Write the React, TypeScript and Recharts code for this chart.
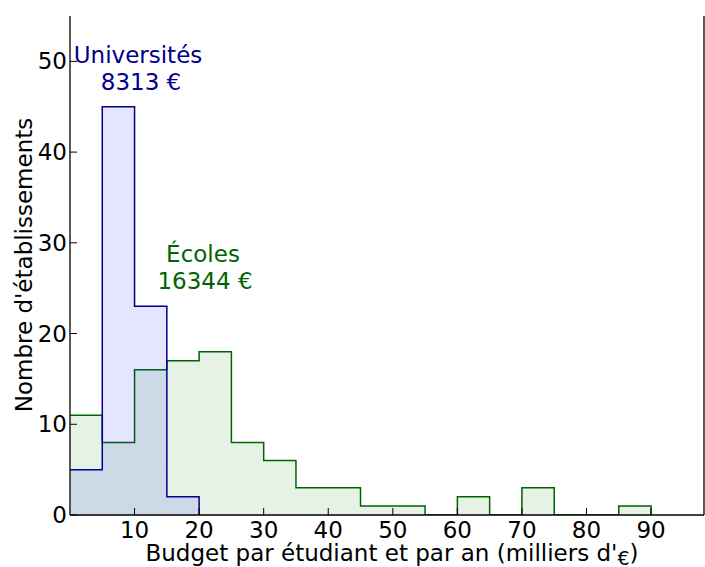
import React from 'react';
import { ComposedChart, Area, XAxis, YAxis } from 'recharts';

// bords des classes (milliers d'€) et effectifs par classe
const bordsClasses = [0, 5, 10, 15, 20, 25, 30, 35, 40, 45, 50, 55, 60, 65, 70, 75, 80, 85, 90];
const universites = [5, 45, 23, 2];
const ecoles = [11, 8, 16, 17, 18, 8, 6, 3, 3, 1, 1, 0, 2, 0, 3, 0, 0, 1];
const ticksX = [10, 20, 30, 40, 50, 60, 70, 80, 90];
const ticksY = [0, 10, 20, 30, 40, 50];

const donnees = bordsClasses.map((bord, i) => ({
  x: bord,
  uni: i < universites.length ? universites[i] : i === universites.length ? 0 : null,
  eco: i < ecoles.length ? ecoles[i] : 0,
}));

const police = 'DejaVu Sans, sans-serif';
const LONG = 7;
const TAILLE = 23;

const TickBas = ({ x, y, payload }: any) => (
  <g>
    <line x1={x} x2={x} y1={y} y2={y - LONG} stroke="#000" strokeWidth={1} />
    <text x={x} y={y + 23} textAnchor="middle" fontSize={TAILLE} fontFamily={police} fill="#000">
      {payload.value}
    </text>
  </g>
);

const TickGauche = ({ x, y, payload }: any) => (
  <g>
    <line x1={x} x2={x + LONG} y1={y} y2={y} stroke="#000" strokeWidth={1} />
    <text x={x - 3} y={y + 8} textAnchor="end" fontSize={TAILLE} fontFamily={police} fill="#000">
      {payload.value}
    </text>
  </g>
);

const TickHaut = ({ x, y }: any) => (
  <line x1={x} x2={x} y1={y} y2={y + LONG} stroke="#000" strokeWidth={1} />
);

const TickDroite = ({ x, y }: any) => (
  <line x1={x} x2={x - LONG} y1={y} y2={y} stroke="#000" strokeWidth={1} />
);

export default function App() {
  return (
    <div style={{ position: 'absolute', left: 0, top: 0, width: 705, height: 567, background: '#fff' }}>
      <ComposedChart width={705} height={567} data={donnees} margin={{ top: 16, right: 1, left: 0, bottom: 0 }}>
        <Area
          type="stepAfter"
          dataKey="eco"
          stroke="#006400"
          strokeWidth={1.5}
          fill="#008000"
          fillOpacity={0.1}
          isAnimationActive={false}
          dot={false}
          activeDot={false}
        />
        <Area
          type="stepAfter"
          dataKey="uni"
          stroke="#00008B"
          strokeWidth={1.5}
          fill="#0000FF"
          fillOpacity={0.1}
          isAnimationActive={false}
          dot={false}
          activeDot={false}
        />
        <XAxis
          dataKey="x"
          type="number"
          domain={[0, 98.2]}
          allowDataOverflow
          ticks={ticksX}
          height={52}
          tickSize={0}
          tickMargin={0}
          tickLine={false}
          tick={<TickBas />}
          axisLine={{ stroke: '#000', strokeWidth: 1.3 }}
        />
        <XAxis
          xAxisId="haut"
          dataKey="x"
          orientation="top"
          type="number"
          domain={[0, 98.2]}
          allowDataOverflow
          ticks={ticksX}
          height={0}
          tickSize={0}
          tickMargin={0}
          tickLine={false}
          tick={<TickHaut />}
          axisLine={{ stroke: '#000', strokeWidth: 1.3 }}
        />
        <YAxis
          type="number"
          domain={[0, 55]}
          allowDataOverflow
          ticks={ticksY}
          width={70}
          tickSize={0}
          tickMargin={0}
          tickLine={false}
          tick={<TickGauche />}
          axisLine={{ stroke: '#000', strokeWidth: 1.3 }}
        />
        <YAxis
          yAxisId="droite"
          orientation="right"
          type="number"
          domain={[0, 55]}
          allowDataOverflow
          ticks={ticksY}
          width={0}
          tickSize={0}
          tickMargin={0}
          tickLine={false}
          tick={<TickDroite />}
          axisLine={{ stroke: '#000', strokeWidth: 1.3 }}
        />
      </ComposedChart>
      <svg
        width={705}
        height={567}
        style={{ position: 'absolute', left: 0, top: 0, pointerEvents: 'none' }}
        fontFamily={police}
      >
        <text x={138} y={63} textAnchor="middle" fontSize={TAILLE} fill="#00008B">Universités</text>
        <text x={141} y={90} textAnchor="middle" fontSize={TAILLE} fill="#00008B">8313 €</text>
        <text x={203} y={262} textAnchor="middle" fontSize={TAILLE} fill="#006400">Écoles</text>
        <text x={205} y={289} textAnchor="middle" fontSize={TAILLE} fill="#006400">16344 €</text>
        <text x={392} y={561} textAnchor="middle" fontSize={TAILLE} fill="#000">
          Budget par étudiant et par an (milliers d'
          <tspan fontSize={19} dy={4}>€</tspan>
          <tspan dy={-4}>)</tspan>
        </text>
        <text
          x={32}
          y={265}
          textAnchor="middle"
          fontSize={TAILLE}
          fill="#000"
          transform="rotate(-90 32 265)"
        >
          Nombre d'établissements
        </text>
        {/* cadre droit, au cas où l'axe droit sans série ne se dessine pas */}
        <line x1={704} x2={704} y1={16} y2={515} stroke="#000" strokeWidth={1.3} />
      </svg>
    </div>
  );
}
